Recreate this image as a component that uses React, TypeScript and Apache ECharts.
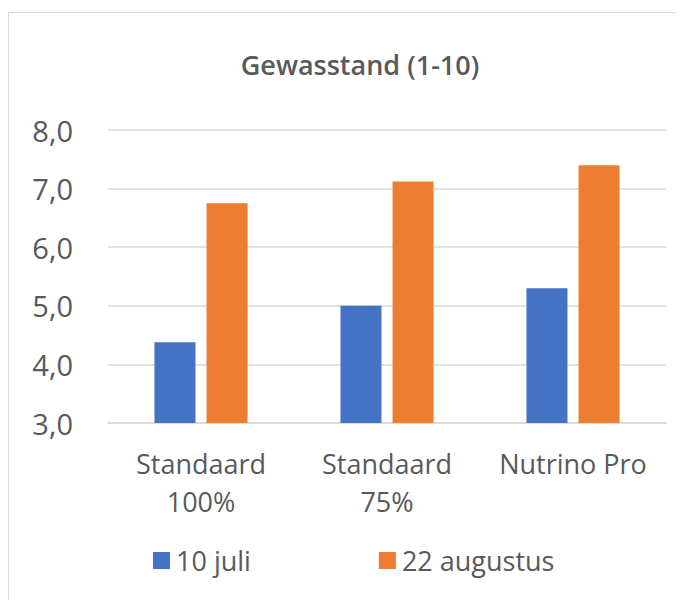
import React, { useEffect, useRef } from "react";
import * as echarts from "echarts";

const categories = ["Standaard\n100%", "Standaard\n75%", "Nutrino Pro"];
const seriesNames = ["10 juli", "22 augustus"];
const julyValues = [4.38, 5.0, 5.3];
const augustValues = [6.75, 7.12, 7.4];
const colors = ["#4472C4", "#ED7D31"];

export default function App() {
  const ref = useRef<HTMLDivElement>(null);
  useEffect(() => {
    if (!ref.current) return;
    const chart = echarts.init(ref.current, null, { renderer: "svg" });
    const font = "'Open Sans', 'Noto Sans', sans-serif";
    chart.setOption({
      animation: false,
      title: {
        text: "Gewasstand (1-10)",
        left: 355,
        textAlign: "center",
        top: 46,
        textStyle: { fontFamily: font, fontSize: 27, fontWeight: 600, color: "#595959" },
      },
      legend: {
        data: seriesNames,
        top: 542,
        left: 148,
        itemWidth: 17,
        itemHeight: 17,
        itemGap: 128,
        icon: "rect",
        textStyle: { fontFamily: font, fontSize: 27, color: "#595959", padding: [0, 0, 0, 1] },
      },
      grid: { left: 108, right: 18, top: 130, bottom: 177 },
      xAxis: {
        type: "category",
        data: categories,
        axisLine: { show: true, lineStyle: { color: "#d9d9d9", width: 1.5 } },
        axisTick: { show: false },
        axisLabel: {
          fontFamily: font,
          fontSize: 27,
          color: "#595959",
          lineHeight: 38,
          margin: 21,
          interval: 0,
        },
      },
      yAxis: {
        type: "value",
        min: 3,
        max: 8,
        interval: 1,
        axisLine: { show: false },
        axisTick: { show: false },
        splitLine: { lineStyle: { color: "#d9d9d9", width: 1.5 } },
        axisLabel: {
          fontFamily: font,
          fontSize: 29,
          color: "#595959",
          margin: 35,
          formatter: (v: number) => v.toFixed(1).replace(".", ","),
        },
      },
      series: [
        {
          name: seriesNames[0],
          type: "bar",
          data: julyValues,
          barWidth: 41,
          barGap: "27%",
          itemStyle: { color: colors[0] },
        },
        {
          name: seriesNames[1],
          type: "bar",
          data: augustValues,
          barWidth: 41,
          barGap: "27%",
          itemStyle: { color: colors[1] },
        },
      ],
    });
    return () => chart.dispose();
  }, []);
  return (
    <div style={{ position: "relative", width: 684, height: 600 }}>
      <div
        style={{
          position: "absolute",
          left: 0,
          top: 4,
          width: 690,
          height: 600,
          border: "1.5px solid #d9d9d9",
          boxSizing: "border-box",
        }}
      />
      <div ref={ref} style={{ position: "absolute", left: -8, top: -8, width: 684, height: 600 }} />
    </div>
  );
}
